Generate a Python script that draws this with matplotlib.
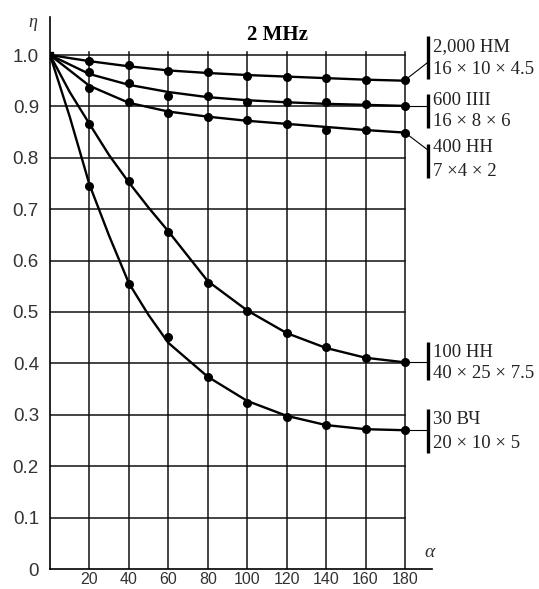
# Ферриты: зависимость η от α при 2 MHz
import matplotlib.pyplot as plt
import numpy as np

# точки измерений
dot_x = [20, 40, 60, 80, 100, 120, 140, 160, 180]
dots_2000 = [0.988, 0.980, 0.969, 0.966, 0.960, 0.957, 0.955, 0.951, 0.951]
dots_600 = [0.966, 0.945, 0.920, 0.921, 0.909, 0.908, 0.908, 0.904, 0.901]
dots_400 = [0.935, 0.909, 0.888, 0.880, 0.874, 0.866, 0.854, 0.854, 0.849]
dots_100 = [0.866, 0.754, 0.656, 0.556, 0.502, 0.459, 0.432, 0.410, 0.402]
dots_30 = [0.746, 0.554, 0.451, 0.373, 0.323, 0.296, 0.281, 0.272, 0.270]

# сглаженные кривые
flat_x = [0, 20, 40, 60, 80, 100, 120, 140, 160, 180]
curve_2000 = [1.0, 0.988, 0.978, 0.970, 0.965, 0.961, 0.958, 0.955, 0.952, 0.950]
curve_600 = [1.0, 0.963, 0.942, 0.928, 0.918, 0.912, 0.908, 0.905, 0.903, 0.901]
curve_400 = [1.0, 0.940, 0.907, 0.890, 0.880, 0.872, 0.866, 0.860, 0.854, 0.849]
steep_x = [0, 10, 20, 30, 40, 50, 60, 80, 100, 120, 140, 160, 180]
curve_100 = [1.0, 0.928, 0.866, 0.805, 0.752, 0.703, 0.657, 0.560, 0.503, 0.459, 0.430, 0.411, 0.402]
curve_30 = [1.0, 0.880, 0.748, 0.648, 0.556, 0.494, 0.440, 0.374, 0.327, 0.298, 0.280, 0.272, 0.270]

x_ticks = [20, 40, 60, 80, 100, 120, 140, 160, 180]
y_ticks = [0, 0.1, 0.2, 0.3, 0.4, 0.5, 0.6, 0.7, 0.8, 0.9, 1.0]
y_tick_labels = ['0', '0.1', '0.2', '0.3', '0.4', '0.5', '0.6', '0.7', '0.8', '0.9', '1.0']

# подписи справа: (строка 1, строка 2, y конца кривой, y выноски, низ и верх черты, y строк)
labels = [
    ('2,000 HM', '16 × 10 × 4.5', 0.951, 0.986, 0.953, 1.037, 1.016, 0.971),
    ('600 IIII', '16 × 8 × 6', 0.901, 0.901, 0.858, 0.924, 0.912, 0.870),
    ('400 HH', '7 ×4 × 2', 0.849, 0.815, 0.761, 0.827, 0.821, 0.774),
    ('100 HH', '40 × 25 × 7.5', 0.402, 0.402, 0.368, 0.442, 0.422, 0.381),
    ('30 ВЧ', '20 × 10 × 5', 0.270, 0.270, 0.226, 0.311, 0.290, 0.245),
]

SERIF = ['Liberation Serif', 'DejaVu Serif']

fig = plt.figure(figsize=(5.39, 5.89), dpi=100)
ax = fig.add_axes([50 / 539, 20 / 589, 382 / 539, 552 / 589])
ax.set_xlim(0, 382 / 1.972)
ax.set_ylim(0, 552 / 514)

# сетка
for yv in y_ticks[1:]:
    ax.plot([0, 180], [yv, yv], color='#111111', linewidth=1.1, zorder=1)
for xv in x_ticks:
    ax.plot([xv, xv], [0, 1.006], color='#111111', linewidth=1.1, zorder=1)

ax.plot(flat_x, curve_2000, color='black', linewidth=1.7, zorder=2)
ax.plot(flat_x, curve_600, color='black', linewidth=1.7, zorder=2)
ax.plot(flat_x, curve_400, color='black', linewidth=1.7, zorder=2)
ax.plot(steep_x, curve_100, color='black', linewidth=1.7, zorder=2)
ax.plot(steep_x, curve_30, color='black', linewidth=1.7, zorder=2)
for d in [dots_2000, dots_600, dots_400, dots_100, dots_30]:
    ax.plot(dot_x, d, 'o', color='black', markersize=5.5, zorder=3)
ax.plot([0], [1.0], 's', color='black', markersize=5, zorder=3)

for s in ['top', 'right']:
    ax.spines[s].set_visible(False)
ax.spines['left'].set_linewidth(1.2)
ax.spines['bottom'].set_linewidth(1.2)
ax.tick_params(length=0)
ax.set_xticks(x_ticks)
ax.set_xticklabels([str(v) for v in x_ticks], fontsize=11.5, color='#333333',
                   family='Liberation Sans')
ax.set_yticks(y_ticks)
ax.set_yticklabels(y_tick_labels, fontsize=13.5, color='#333333', family='Liberation Sans')
ax.tick_params(axis='x', pad=2)
ax.tick_params(axis='y', pad=8)

ax.text(115.6, 1.039, '2 MHz', fontsize=15, fontweight='bold', family=SERIF,
        ha='center', va='center')
ax.text(-8.6, 1.064, 'η', fontsize=13, style='italic', family=SERIF, color='#333333',
        ha='center', va='center', clip_on=False)
ax.text(192.7, 0.033, 'α', fontsize=14, style='italic', family=SERIF, color='#333333',
        ha='center', va='center', clip_on=False)

bar_x = 191.7
for name, size, y_end, y_lead, b0, b1, t1, t2 in labels:
    ax.plot([180, bar_x], [y_end, y_lead], color='black', linewidth=0.8, clip_on=False)
    ax.plot([bar_x, bar_x], [b0, b1], color='black', linewidth=2.4, clip_on=False,
            solid_capstyle='butt')
    ax.text(bar_x + 2.5, t1, name, fontsize=13.5, family=SERIF, color='#222222',
            ha='left', va='center', clip_on=False)
    ax.text(bar_x + 2.5, t2, size, fontsize=13.5, family=SERIF, color='#222222',
            ha='left', va='center', clip_on=False)

fig.savefig('out.png', dpi=100)
